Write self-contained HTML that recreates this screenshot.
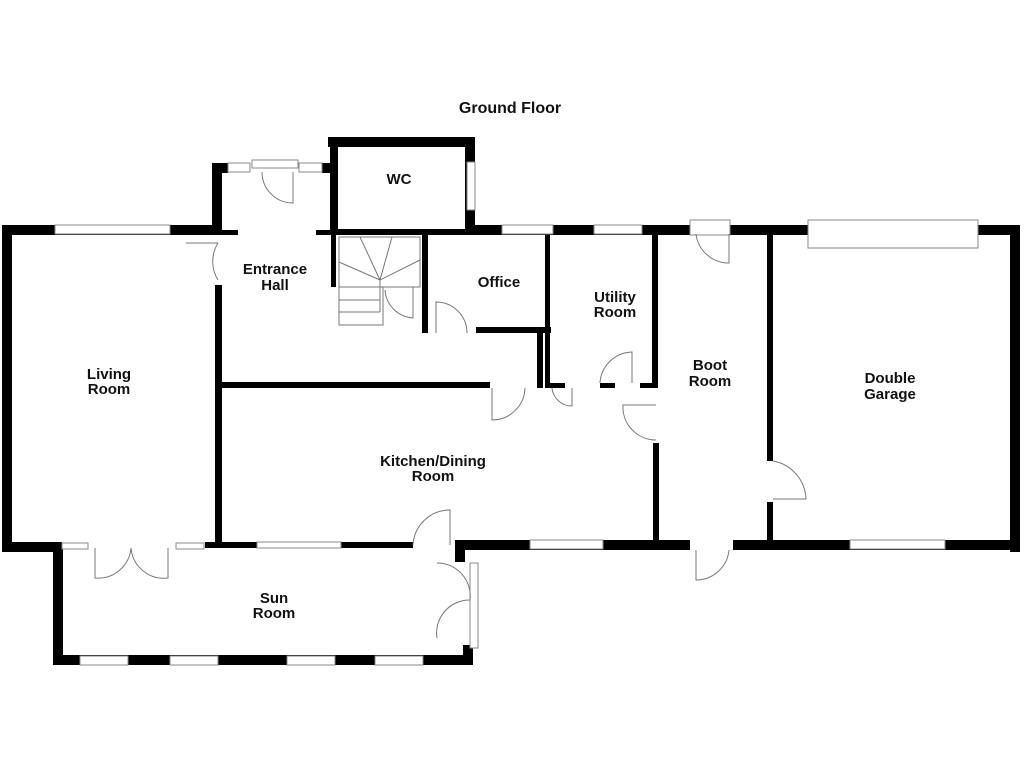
<!DOCTYPE html>
<html><head><style>body{margin:0;background:#fff}svg{display:block}text{font-family:"Liberation Sans",Arial,sans-serif;font-weight:bold;font-size:15px;text-anchor:middle;fill:#111}</style></head><body>
<svg width="1024" height="768" viewBox="0 0 1024 768">
<g fill="#000">
<rect x="2" y="225" width="10" height="327"/>
<rect x="2" y="225" width="220" height="10"/>
<rect x="212" y="163" width="10" height="72"/>
<rect x="212" y="163" width="16" height="10"/>
<rect x="322" y="163" width="10" height="10"/>
<rect x="222" y="230" width="16" height="5"/>
<rect x="316" y="230" width="20" height="5"/>
<rect x="328" y="137" width="147" height="10"/>
<rect x="330" y="137" width="8" height="98"/>
<rect x="465" y="137" width="10" height="98"/>
<rect x="330" y="229" width="690" height="6"/>
<rect x="465" y="225" width="555" height="10"/>
<rect x="1010" y="225" width="10" height="327"/>
<rect x="215" y="285" width="7" height="262"/>
<rect x="222" y="382" width="268" height="6"/>
<rect x="331" y="235" width="5" height="52"/>
<rect x="422" y="235" width="6" height="98"/>
<rect x="476" y="327" width="75" height="6"/>
<rect x="545" y="233" width="5" height="155"/>
<rect x="537" y="330" width="6" height="58"/>
<rect x="545" y="383" width="20" height="5"/>
<rect x="600" y="383" width="15" height="5"/>
<rect x="652" y="233" width="6" height="155"/>
<rect x="640" y="383" width="18" height="5"/>
<rect x="653" y="443" width="6" height="105"/>
<rect x="767" y="233" width="6" height="228"/>
<rect x="767" y="502" width="6" height="45"/>
<rect x="2" y="542" width="60" height="10"/>
<rect x="205" y="542" width="208" height="6"/>
<rect x="455" y="540" width="235" height="10"/>
<rect x="733" y="540" width="287" height="10"/>
<rect x="455" y="540" width="10" height="22"/>
<rect x="53" y="545" width="10" height="120"/>
<rect x="53" y="655" width="420" height="10"/>
<rect x="463" y="645" width="10" height="20"/>
</g>
<g fill="#fff" stroke="#888" stroke-width="1">
<rect x="55" y="225" width="115" height="9"/><rect x="502" y="225" width="51" height="9"/><rect x="594" y="225" width="48" height="9"/>
<rect x="808" y="220" width="170" height="28"/>
<rect x="228" y="163" width="22" height="9"/><rect x="252" y="160" width="46" height="8"/><rect x="299" y="163" width="23" height="9"/>
<rect x="467" y="162" width="8" height="48"/>
<rect x="62" y="543" width="26" height="6"/><rect x="176" y="543" width="28" height="6"/><rect x="257" y="542" width="84" height="6"/>
<rect x="530" y="540" width="73" height="9"/><rect x="850" y="540" width="95" height="9"/>
<rect x="80" y="656" width="48" height="9"/><rect x="170" y="656" width="48" height="9"/><rect x="287" y="656" width="48" height="9"/><rect x="375" y="656" width="48" height="9"/>
<rect x="470" y="563" width="8" height="85"/>
<rect x="690" y="220" width="40" height="15"/>
</g>
<g fill="none" stroke="#777" stroke-width="1">
<path d="M293 172 V203 A31 31 0 0 1 262 172"/>
<path d="M218 243 A35 35 0 0 0 218 280 M186 243 H218"/>
<path d="M729 234 V263 A33 33 0 0 1 696 234"/>
<path d="M436 333 V302 A31 31 0 0 1 467 333"/>
<path d="M95 548 V578 A33 33 0 0 0 131 548 M168 548 V578 A33 33 0 0 1 131 548"/>
<path d="M413 545 A37 37 0 0 1 450 510 V545"/>
<path d="M437 563 A33 33 0 0 1 470 600 A33 33 0 0 0 437 638"/>
<path d="M492 388 V420 A33 33 0 0 0 525 388"/>
<path d="M572 388 V406 A20 20 0 0 1 552 388"/>
<path d="M600 383 A33 33 0 0 1 632 352 V383"/>
<path d="M656 405 H623 A33 33 0 0 0 656 440"/>
<path d="M773 461 A40 40 0 0 1 806 499 H773"/>
<path d="M696 550 V580 A33 33 0 0 0 729 550"/>
<path d="M339 237 H420 V287 H339 Z M339 287 V325 H383 V287 M339 300 H380 M339 312 H380 M380 280 L360 237 M380 280 L392 237 M380 280 L420 260 M380 280 L339 262 M380 280 V312 M385 290 A30 30 0 0 0 413 318 V287"/>
</g>
<text x="510" y="113" style="font-size:16px">Ground Floor</text>
<text x="399" y="184">WC</text>
<text x="275" y="274">Entrance</text><text x="275" y="290">Hall</text>
<text x="499" y="287">Office</text>
<text x="615" y="302">Utility</text><text x="615" y="317">Room</text>
<text x="109" y="379">Living</text><text x="109" y="394">Room</text>
<text x="710" y="370">Boot</text><text x="710" y="386">Room</text>
<text x="890" y="383">Double</text><text x="890" y="399">Garage</text>
<text x="433" y="466">Kitchen/Dining</text><text x="433" y="481">Room</text>
<text x="274" y="603">Sun</text><text x="274" y="618">Room</text>
</svg></body></html>
